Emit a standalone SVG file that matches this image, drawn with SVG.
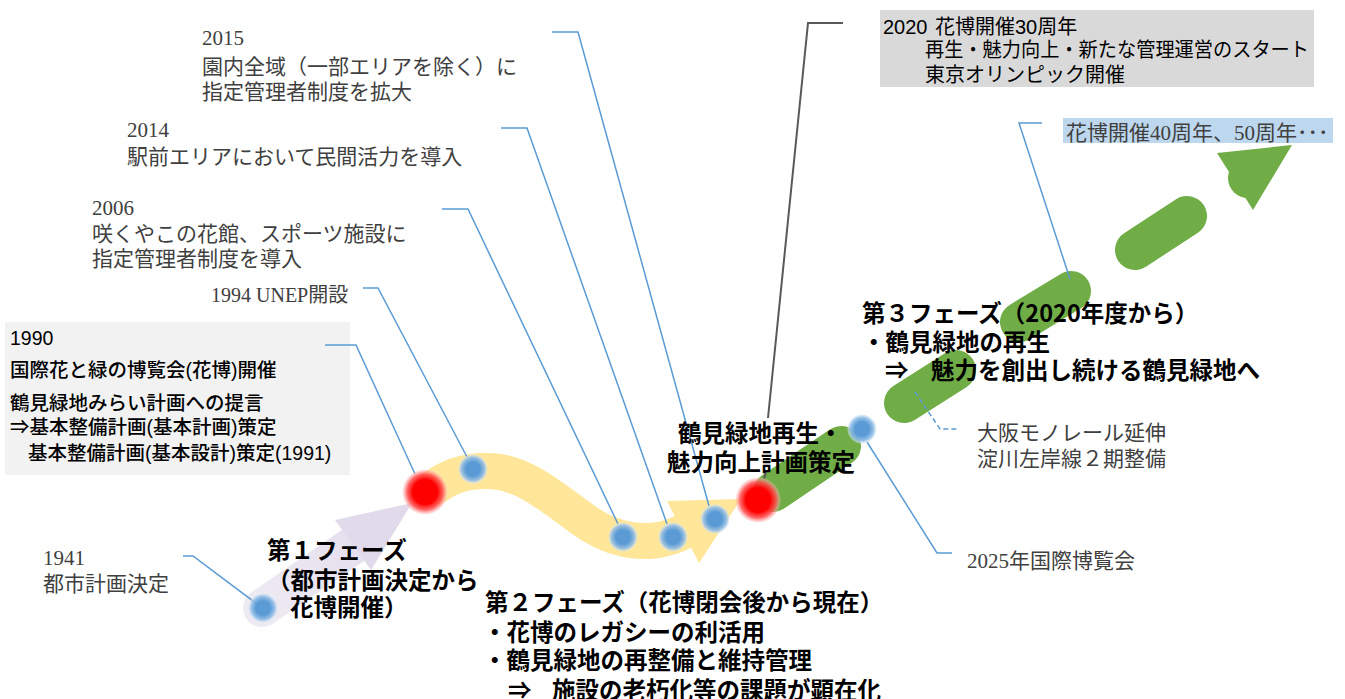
<svg xmlns="http://www.w3.org/2000/svg" width="1345" height="699" viewBox="0 0 1345 699">
<defs>
<style>
.ser { font-family: "Liberation Serif", "Noto Sans CJK JP", serif; font-size: 21px; fill: #404040; }
.box { font-family: "Liberation Sans", "Noto Sans CJK JP", sans-serif; font-size: 19.5px; font-weight: 500; fill: #000; }
.box2 { font-family: "Liberation Sans", "Noto Sans CJK JP", sans-serif; font-size: 20px; fill: #000; }
.ph { font-family: "Noto Sans CJK JP", sans-serif; font-weight: 700; font-size: 23.5px; fill: #000; }
.ln { stroke: #5B9BD5; stroke-width: 1.5; fill: none; }
.grn { stroke: #70AD47; stroke-width: 40; stroke-linecap: round; fill: none; }
.dot { fill: url(#gBlue); }
.red { fill: url(#gRed); }
</style>
<radialGradient id="gRed" cx="0.5" cy="0.5" r="0.5">
<stop offset="0" stop-color="#FF0000"/>
<stop offset="0.55" stop-color="#FF0000"/>
<stop offset="0.8" stop-color="#FF4D4D" stop-opacity="0.85"/>
<stop offset="1" stop-color="#FFC0C0" stop-opacity="0.35"/>
</radialGradient>
<radialGradient id="gBlue" cx="0.5" cy="0.5" r="0.5">
<stop offset="0" stop-color="#5B9BD5"/>
<stop offset="0.5" stop-color="#5B9BD5"/>
<stop offset="0.8" stop-color="#8FBCE6" stop-opacity="0.9"/>
<stop offset="1" stop-color="#D6E6F5" stop-opacity="0.5"/>
</radialGradient>
<linearGradient id="gLav" x1="262" y1="608" x2="412" y2="503" gradientUnits="userSpaceOnUse">
<stop offset="0" stop-color="#EEEAF3"/>
<stop offset="1" stop-color="#E0DAEA"/>
</linearGradient>
</defs>

<rect width="1345" height="699" fill="#FFFFFF"/>

<g id="bands">
<line x1="262" y1="608" x2="355" y2="544" stroke="url(#gLav)" stroke-width="38" stroke-linecap="round"/>
<polygon points="335,520 412,503 371,570" fill="#E0DAEA"/>
<path d="M428 492 C448 476, 466 470, 490 471 C525 472, 555 500, 585 521 C605 535, 625 542, 650 541 C665 540, 675 536, 685 531" fill="none" stroke="#FFE699" stroke-width="36"/>
<polygon points="667,501 741,499 699,563" fill="#FFE699"/>
<line class="grn" x1="773" y1="492" x2="841" y2="446"/>
<line class="grn" x1="904" y1="403" x2="956" y2="370"/>
<line class="grn" x1="1020" y1="322" x2="1071" y2="291"/>
<line class="grn" x1="1135" y1="250" x2="1187" y2="216"/>
<circle cx="1248" cy="178" r="20" fill="#70AD47"/>
<polygon points="1217,153 1292,145 1253,210" fill="#70AD47"/>
</g>

<g id="boxes">
<rect x="5" y="322" width="345" height="153" fill="#F2F2F2"/>
<rect x="880" y="10" width="434" height="77" fill="#D9D9D9"/>
<rect x="1063" y="118" width="270" height="25" fill="#BDD7EE"/>
</g>

<g id="connectors">
<path class="ln" d="M183,556 L193,556 L257,604"/>
<path class="ln" d="M325,345 L356,345 L415,474"/>
<path class="ln" d="M363,288 L378,288 L467,457"/>
<path class="ln" d="M442,209 L468,209 L618,524"/>
<path class="ln" d="M501,128 L527,128 L667,524"/>
<path class="ln" d="M552,32 L578,32 L709,506"/>
<path d="M843,23 L808,23 L768,418" stroke="#595959" stroke-width="2" fill="none"/>
<path d="M766,472 L764,479" stroke="#595959" stroke-width="2" fill="none"/>
<path class="ln" d="M1042,123 L1019,123 L1070,279"/>
<path class="ln" d="M915,392 L940,429 L958,429" stroke-dasharray="5,3"/>
<path class="ln" d="M867,442 L937,553 L952,553"/>
</g>

<g id="points">
<circle class="dot" cx="263" cy="608" r="14.5"/>
<circle class="red" cx="425" cy="492" r="22.5"/>
<circle class="dot" cx="473" cy="469" r="14.5"/>
<circle class="dot" cx="623" cy="537" r="14.5"/>
<circle class="dot" cx="673" cy="537" r="14.5"/>
<circle class="dot" cx="715" cy="519" r="14.5"/>
<circle class="red" cx="758" cy="500" r="22.5"/>
<circle class="dot" cx="862" cy="429" r="14.5"/>
</g>

<g id="n2015">
<text class="ser" x="202" y="45">2015</text>
<text class="ser" x="202" y="74">園内全域（一部エリアを除く）に</text>
<text class="ser" x="202" y="99">指定管理者制度を拡大</text>
</g>
<g id="n2014">
<text class="ser" x="127" y="137">2014</text>
<text class="ser" x="127" y="164">駅前エリアにおいて民間活力を導入</text>
</g>
<g id="n2006">
<text class="ser" x="92" y="215">2006</text>
<text class="ser" x="92" y="241">咲くやこの花館、スポーツ施設に</text>
<text class="ser" x="92" y="266">指定管理者制度を導入</text>
</g>
<g id="n1994">
<text class="ser" x="211" y="302" style="font-size:20px">1994 UNEP開設</text>
</g>
<g id="n1990">
<text class="box" x="10" y="345">1990</text>
<text class="box" x="10" y="377">国際花と緑の博覧会(花博)開催</text>
<text class="box" x="10" y="410">鶴見緑地みらい計画への提言</text>
<text class="box" x="10" y="434">⇒基本整備計画(基本計画)策定</text>
<text class="box" x="28" y="460">基本整備計画(基本設計)策定(1991)</text>
</g>
<g id="n1941">
<text class="ser" x="43" y="565">1941</text>
<text class="ser" x="43" y="591">都市計画決定</text>
</g>
<g id="n2020">
<text class="box2" y="34"><tspan x="883">2020</tspan><tspan x="935">花博開催30周年</tspan></text>
<text class="box2" x="925" y="57" textLength="384" lengthAdjust="spacingAndGlyphs">再生・魅力向上・新たな管理運営のスタート</text>
<text class="box2" x="925" y="82">東京オリンピック開催</text>
</g>
<g id="nFuture">
<text class="ser" x="1066" y="140">花博開催40周年、50周年･･･</text>
</g>
<g id="nMonorail">
<text class="ser" x="977" y="440">大阪モノレール延伸</text>
<text class="ser" x="977" y="466">淀川左岸線２期整備</text>
</g>
<g id="n2025">
<text class="ser" x="967" y="568">2025年国際博覧会</text>
</g>
<g id="nPlan">
<text class="ph" x="678" y="442">鶴見緑地再生・</text>
<text class="ph" x="667" y="471">魅力向上計画策定</text>
</g>
<g id="phase1">
<text class="ph" x="267" y="559">第１フェーズ</text>
<text class="ph" x="267" y="589">（都市計画決定から</text>
<text class="ph" x="290" y="616">花博開催）</text>
</g>
<g id="phase2">
<text class="ph" x="485" y="611">第２フェーズ（花博閉会後から現在）</text>
<text class="ph" x="483" y="641">・花博のレガシーの利活用</text>
<text class="ph" x="483" y="669">・鶴見緑地の再整備と維持管理</text>
<text class="ph" y="699"><tspan x="508">⇒</tspan><tspan x="552">施設の老朽化等の課題が顕在化</tspan></text>
</g>
<g id="phase3">
<text class="ph" x="862" y="322">第３フェーズ（2020年度から）</text>
<text class="ph" x="862" y="351">・鶴見緑地の再生</text>
<text class="ph" y="379"><tspan x="885">⇒</tspan><tspan x="931">魅力を創出し続ける鶴見緑地へ</tspan></text>
</g>
</svg>
